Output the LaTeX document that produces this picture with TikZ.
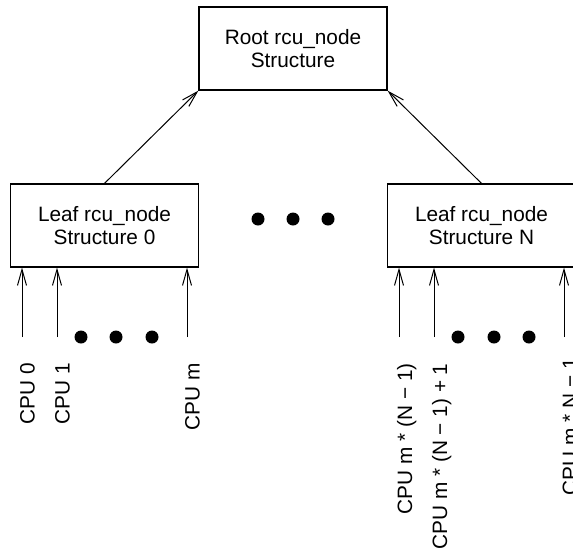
\documentclass[tikz,border=0pt]{standalone}
\usepackage{fontspec}
\setmainfont{Liberation Sans}
\usepackage{tikz}
\usetikzlibrary{arrows.meta,positioning}
\newcommand{\rcufont}{\fontsize{10.4}{11.5}\selectfont}
\tikzset{
  rcubox/.style={draw, line width=0.6pt, align=center, inner sep=0pt,
                 minimum width=94pt, minimum height=41.5pt, font=\rcufont},
  bigdot/.style={circle, fill, inner sep=0pt, minimum size=6.5pt},
  cpulabel/.style={rotate=90, anchor=base east, inner sep=0pt, font=\rcufont},
  cpuarrow/.style={->, line width=0.5pt},
}

\begin{document}
\begin{tikzpicture}[x=0.5pt, y=0.5pt, >={Straight Barb[length=8pt,width=4.5pt]}]
    \clip (0,0) rectangle (573,-552);
    \node[rcubox] (root)  at (293,-48.5)   {Root rcu\_node\\Structure};
    \node[rcubox] (leafa) at (104.5,-225.5) {Leaf rcu\_node\\Structure 0};
    \node[rcubox] (leafn) at (481.5,-225.5) {Leaf rcu\_node\\Structure N};
    \draw[cpuarrow] (leafa.north) -- (root.south west);
    \draw[cpuarrow] (leafn.north) -- (root.south east);
    % dots between the leaves
    \node[bigdot] (m1) at (258,-219) {};
    \node[bigdot] (m2) at (293,-219) {};
    \node[bigdot] (m3) at (328,-219) {};
    % CPUs of leaf 0
    \coordinate (c0) at (22,-337);
    \coordinate (c1) at (57,-337);
    \coordinate (cm) at (187,-337);
    \foreach \c in {c0,c1,cm} { \draw[cpuarrow] (\c) -- (\c |- leafa.south); }
    \foreach \x [count=\i] in {81,116,152} { \node[bigdot] (a\i) at (\x,-337) {}; }
    \node[cpulabel] (l0) at (34.5,-363) {CPU 0};
    \node[cpulabel] (l1) at (69.5,-363) {CPU 1};
    \node[cpulabel] (lm) at (199.5,-363) {CPU m};
    % CPUs of leaf N
    \coordinate (cna) at (399,-337);
    \coordinate (cnb) at (434,-337);
    \coordinate (cnc) at (564,-337);
    \foreach \c in {cna,cnb,cnc} { \draw[cpuarrow] (\c) -- (\c |- leafn.south); }
    \foreach \x [count=\i] in {458,494,529} { \node[bigdot] (b\i) at (\x,-337) {}; }
    \node[cpulabel] (lna) at (412,-363) {CPU m * (N − 1)};
    \node[cpulabel] (lnb) at (447,-363) {CPU m * (N − 1) + 1};
    \node[cpulabel] (lnc) at (577,-358) {CPU m * N − 1};
  \end{tikzpicture}
\end{document}
